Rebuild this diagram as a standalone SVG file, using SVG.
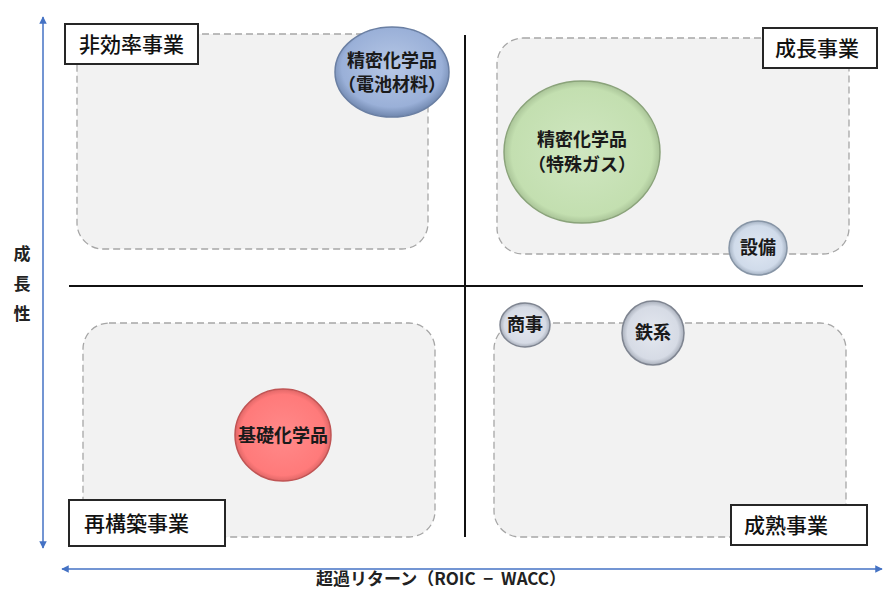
<svg xmlns="http://www.w3.org/2000/svg" width="886" height="590" viewBox="0 0 886 590">
<defs>
<style>
.zone{fill:#f2f2f2;stroke:#a6a6a6;stroke-width:1.3;stroke-dasharray:7 4}
.lbox{fill:#fff;stroke:#262626;stroke-width:2}
.lt{font-family:"Noto Sans CJK JP","Noto Sans",sans-serif;font-size:21px;font-weight:500;fill:#111}
.bt{font-family:"Noto Sans CJK JP","Noto Sans",sans-serif;font-size:18px;font-weight:bold;fill:#1a1a1a;text-anchor:middle}
.ax{font-family:"Noto Sans CJK JP","Noto Sans",sans-serif;font-size:17px;font-weight:bold;fill:#222}
.bub{stroke-width:1.5}
</style>
<radialGradient id="gBlue" cx="50%" cy="45%" r="55%"><stop offset="0" stop-color="#b7c8e6"/><stop offset="0.8" stop-color="#9ab0d8"/><stop offset="1" stop-color="#6f86ad"/></radialGradient>
<radialGradient id="gGreen" cx="50%" cy="50%" r="55%"><stop offset="0" stop-color="#cfe6c0"/><stop offset="0.82" stop-color="#c3dfb0"/><stop offset="1" stop-color="#90a980"/></radialGradient>
<radialGradient id="gRed" cx="50%" cy="50%" r="55%"><stop offset="0" stop-color="#ff8a8a"/><stop offset="0.8" stop-color="#ff7a7a"/><stop offset="1" stop-color="#c85858"/></radialGradient>
<radialGradient id="gGray" cx="50%" cy="50%" r="55%"><stop offset="0" stop-color="#e4e8f0"/><stop offset="0.75" stop-color="#d6dbe5"/><stop offset="1" stop-color="#8f96a3"/></radialGradient>
<radialGradient id="gLblue" cx="50%" cy="50%" r="55%"><stop offset="0" stop-color="#e0e8f3"/><stop offset="0.75" stop-color="#d0dbea"/><stop offset="1" stop-color="#8c9aac"/></radialGradient>
<marker id="ah" viewBox="0 0 10 10" refX="9" refY="5" markerWidth="5" markerHeight="5" orient="auto-start-reverse"><path d="M0,0 L10,5 L0,10 z" fill="#4472c4"/></marker>
</defs>

<g id="zones">
<rect id="zone-inefficient" class="zone" x="77" y="34" width="351" height="215" rx="26"/>
<rect id="zone-growth" class="zone" x="497" y="38" width="352" height="216" rx="26"/>
<rect id="zone-restructure" class="zone" x="83" y="323" width="352" height="214" rx="26"/>
<rect id="zone-mature" class="zone" x="494" y="323" width="352" height="214" rx="26"/>
</g>

<g id="connectors">
<line x1="43" y1="548" x2="43" y2="17" stroke="#4472c4" stroke-width="1.5" marker-start="url(#ah)" marker-end="url(#ah)"/>
<line x1="62" y1="569" x2="882" y2="569" stroke="#4472c4" stroke-width="1.5" marker-start="url(#ah)" marker-end="url(#ah)"/>
<line x1="465" y1="35" x2="465" y2="537" stroke="#111" stroke-width="2"/>
<line x1="69" y1="286" x2="863" y2="286" stroke="#111" stroke-width="2"/>
</g>

<g id="label-inefficient"><rect class="lbox" x="65" y="24" width="133" height="40"/><text class="lt" x="79" y="52">非効率事業</text></g>
<g id="label-growth"><rect class="lbox" x="763" y="28" width="114" height="40"/><text class="lt" x="775" y="56">成長事業</text></g>
<g id="label-restructure"><rect class="lbox" x="69" y="500" width="156" height="46"/><text class="lt" x="84" y="531">再構築事業</text></g>
<g id="label-mature"><rect class="lbox" x="731" y="505" width="136" height="40"/><text class="lt" x="744" y="533">成熟事業</text></g>

<g id="bubble-battery"><ellipse class="bub" cx="392" cy="72" rx="57" ry="45" fill="url(#gBlue)" stroke="#6a7fa3"/><text class="bt" x="392" y="67">精密化学品</text><text class="bt" x="392" y="91">（電池材料）</text></g>
<g id="bubble-gas"><ellipse class="bub" cx="582" cy="152" rx="78" ry="71" fill="url(#gGreen)" stroke="#8aa37a"/><text class="bt" x="582" y="146">精密化学品</text><text class="bt" x="582" y="171">（特殊ガス）</text></g>
<g id="bubble-equipment"><ellipse class="bub" cx="758" cy="248" rx="29" ry="27" fill="url(#gLblue)" stroke="#8795a6"/><text class="bt" x="758" y="254">設備</text></g>
<g id="bubble-basic"><ellipse class="bub" cx="283" cy="435" rx="48" ry="46" fill="url(#gRed)" stroke="#c05454"/><text class="bt" x="283" y="442">基礎化学品</text></g>
<g id="bubble-trading"><ellipse class="bub" cx="525" cy="325" rx="25" ry="22" fill="url(#gGray)" stroke="#7f8591"/><text class="bt" x="525" y="331">商事</text></g>
<g id="bubble-steel"><ellipse class="bub" cx="653" cy="333" rx="31" ry="32" fill="url(#gGray)" stroke="#7f8591"/><text class="bt" x="653" y="339">鉄系</text></g>

<g id="axis-labels">
<text class="ax" x="22" y="260" text-anchor="middle">成</text>
<text class="ax" x="22" y="290" text-anchor="middle">長</text>
<text class="ax" x="22" y="320" text-anchor="middle">性</text>
<text class="ax" x="441" y="585" text-anchor="middle" font-size="16">超過リターン（ROIC&#160;&#160;−&#160;&#160;WACC）</text>
</g>
</svg>
